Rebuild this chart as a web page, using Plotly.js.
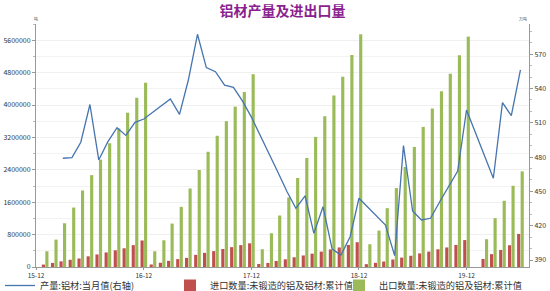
<!DOCTYPE html>
<html>
<head>
<meta charset="utf-8">
<script src="https://cdn.plot.ly/plotly-3.0.1.min.js"></script>
<style>html,body{margin:0;padding:0;background:#fff;}#chart{width:550px;height:291px;}</style>
</head>
<body>
<div id="chart"></div>
<script>
var months = [
 '2016-01','2016-02','2016-03','2016-04','2016-05','2016-06','2016-07','2016-08','2016-09','2016-10','2016-11','2016-12',
 '2017-01','2017-02','2017-03','2017-04','2017-05','2017-06','2017-07','2017-08','2017-09','2017-10','2017-11','2017-12',
 '2018-01','2018-02','2018-03','2018-04','2018-05','2018-06','2018-07','2018-08','2018-09','2018-10','2018-11','2018-12',
 '2019-01','2019-02','2019-03','2019-04','2019-05','2019-06','2019-07','2019-08','2019-09','2019-10','2019-11','2019-12',
 '2020-01','2020-02','2020-03','2020-04','2020-05','2020-06'
];
// 产量:铝材:当月值 (万吨, 右轴)
var production = [
 null,null,479,479.5,493,526,477.5,493.5,505.7,499,510.4,513.3,
 null,null,530.8,517.4,547.4,587.4,558.3,554.7,543,541,529,515,
 null,null,466.7,449.7,435.2,446.2,413.3,436.6,399.6,394.4,410.4,444,
 null,null,420.6,393.8,490,432.9,425,426.5,441,453.8,467.8,521.2,
 null,null,461.5,527.6,516.2,556.2
];
// 进口数量:未锻造的铝及铝材:累计值 (吨)
var imports = [
 60000,100000,140000,178000,210000,264000,310000,360000,412000,462000,540000,655000,
 62000,105000,152000,195000,225000,300000,350000,392000,444000,490000,540000,585000,
 75000,99000,149000,190000,240000,285000,330000,380000,433000,483000,545000,611000,
 70000,103000,136000,185000,232000,277000,335000,380000,437000,483000,545000,665000,
 null,198000,318000,421000,537000,817000
];
// 出口数量:未锻造的铝及铝材:累计值 (吨)
var exports_ = [
 388000,676000,1080000,1468000,1889000,2268000,2650000,3055000,3420000,3810000,4180000,4550000,
 388000,660000,1072000,1485000,1938000,2395000,2845000,3240000,3600000,3960000,4320000,4760000,
 438000,834000,1271000,1717000,2197000,2692000,3212000,3723000,4235000,4698000,5234000,5746000,
 562000,900000,1453000,1949000,2469000,2965000,3460000,3913000,4342000,4772000,5226000,5689000,
 null,686000,1206000,1635000,2006000,2361000
];
var tickDates = ['2015-12','2016-12','2017-12','2018-12','2019-12'];
var tickLabels = ['15-12','16-12','17-12','18-12','19-12'];
var names = ['产量:铝材:当月值(右轴)','进口数量:未锻造的铝及铝材:累计值','出口数量:未锻造的铝及铝材:累计值'];

var FONT = '"Noto Sans CJK SC", "Noto Sans", sans-serif';
var traces = [
 {type:'scatter', mode:'lines', x:months, y:production, yaxis:'y2', name:names[0], legend:'legend',
  connectgaps:true, line:{color:'#4674ae', width:1.3}},
 {type:'bar', x:months, y:imports, name:names[1], legend:'legend2', marker:{color:'#c0504d'}},
 {type:'bar', x:months, y:exports_, name:names[2], legend:'legend3', marker:{color:'#9bbb59'}}
];
function leg(xpx) {
  return {orientation:'h', xref:'container', yref:'paper', x:xpx/550, y:-18.5/243, xanchor:'left', yanchor:'middle',
          font:{family:FONT, size:9.2, color:'#333'}, itemwidth:30, bgcolor:'rgba(0,0,0,0)', borderwidth:0};
}
var layout = {
 width:550, height:291,
 margin:{l:36, r:21, t:24, b:24, autoexpand:false},
 paper_bgcolor:'#fff', plot_bgcolor:'#fff',
 font:{family:FONT, size:7, color:'#333'},
 title:{text:'铝材产量及进出口量', x:0.5, xref:'paper', xanchor:'center', y:0.962, yref:'container', yanchor:'middle',
        font:{family:FONT, size:14, color:'#8a1f8f', weight:'bold'}},
 barmode:'group', bargap:0.15, bargroupgap:0.1,
 showlegend:true,
 legend:leg(-1), legend2:leg(170), legend3:leg(339),
 xaxis:{type:'date', range:['2015-12-01','2020-06-30'], tickvals:tickDates, ticktext:tickLabels,
        showline:true, linecolor:'#999', linewidth:1, ticks:'outside', ticklen:2, tickcolor:'#999',
        showgrid:false, zeroline:false, tickfont:{size:6.5, color:'#333'}},
 yaxis:{range:[0,6000000], tick0:0, dtick:800000, showline:true, linecolor:'#999', linewidth:1,
        ticks:'outside', ticklen:3, tickcolor:'#999', showgrid:true, gridcolor:'#f0f0f0', zeroline:false,
        minor:{dtick:400000, showgrid:true, gridcolor:'#f3f3f3', ticks:'outside', ticklen:2, tickcolor:'#bbb'},
        tickfont:{size:7, color:'#333'}, tickformat:'d'},
 yaxis2:{overlaying:'y', side:'right', range:[383.9,596.4], tick0:390, dtick:30, showline:true,
        linecolor:'#999', linewidth:1, ticks:'outside', ticklen:3, tickcolor:'#999', showgrid:false, zeroline:false,
        minor:{dtick:10, ticks:'outside', ticklen:2, tickcolor:'#bbb'},
        tickfont:{size:7, color:'#333'}},
 annotations:[
  {text:'吨', xref:'paper', yref:'paper', x:0, y:1, xanchor:'center', yanchor:'bottom', showarrow:false, font:{size:4, color:'#555'}},
  {text:'万吨', xref:'paper', yref:'paper', x:1, y:1, xanchor:'right', yanchor:'bottom', showarrow:false, font:{size:4, color:'#555'}}
 ]
};
Plotly.newPlot('chart', traces, layout, {displayModeBar:false, staticPlot:true});
</script>
</body>
</html>
